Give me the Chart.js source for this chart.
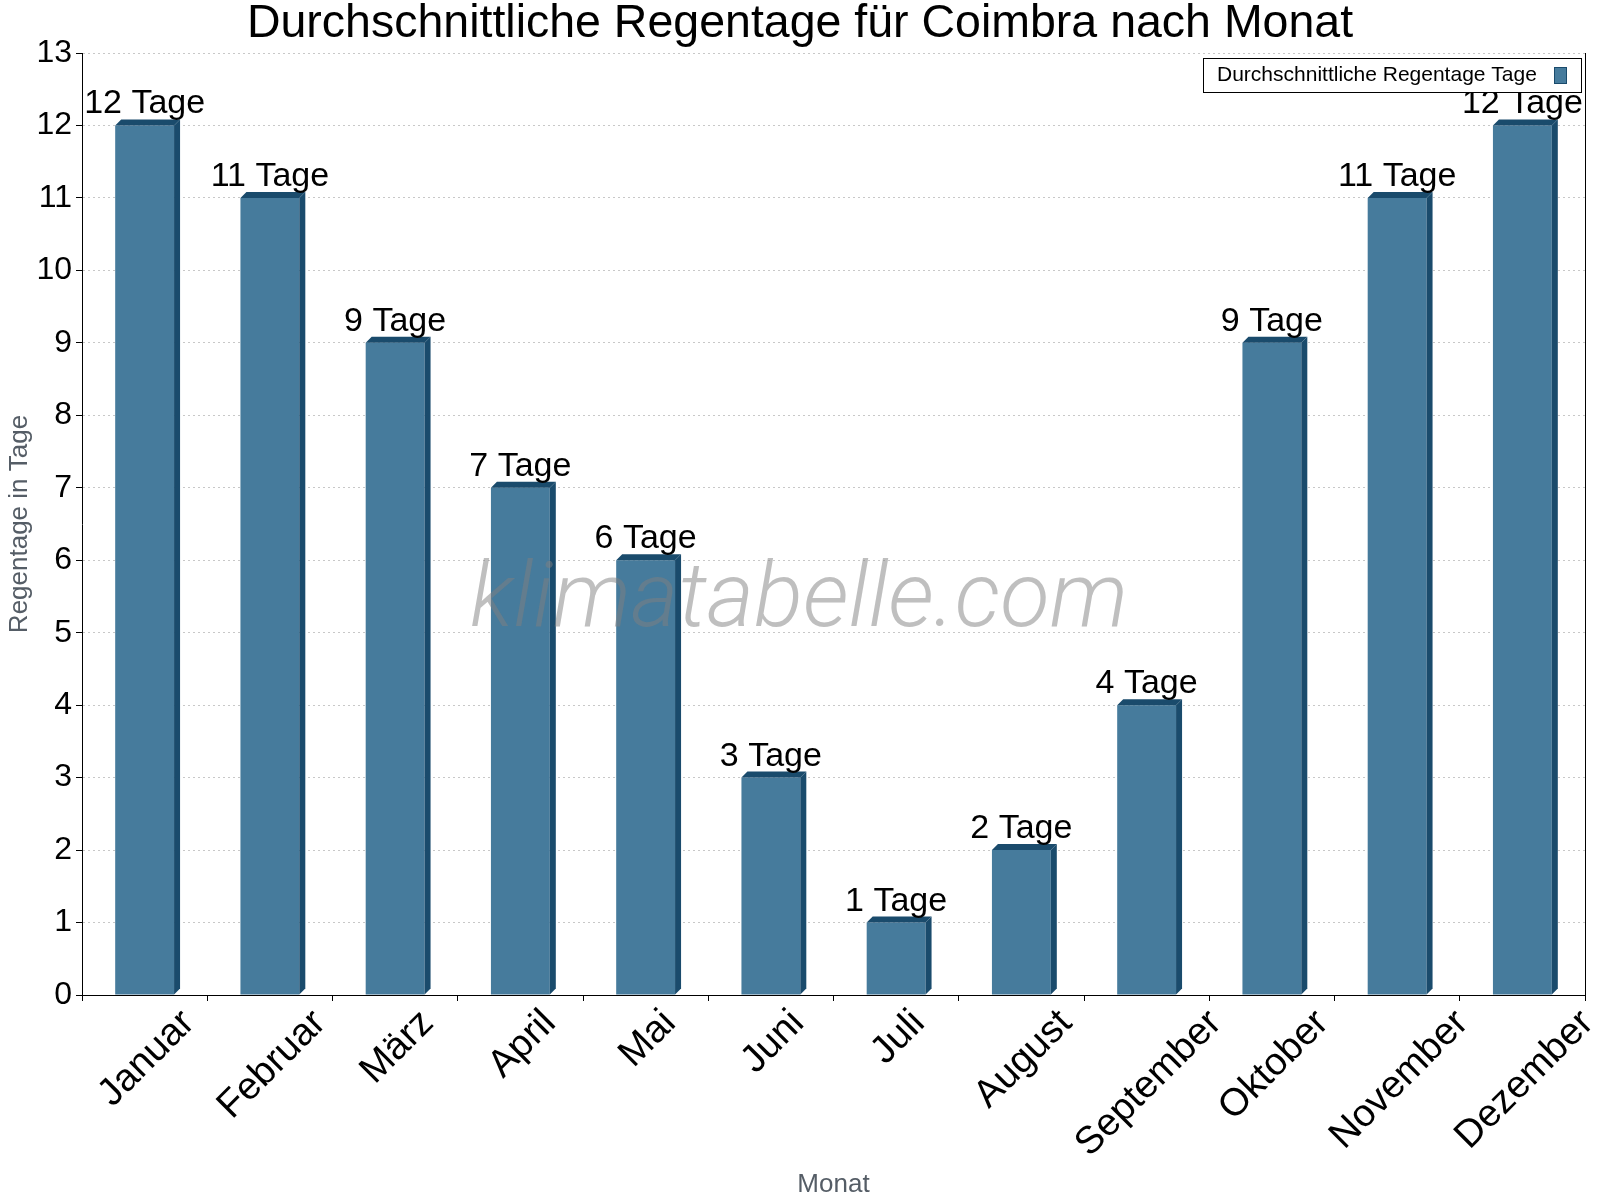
<!DOCTYPE html>
<html>
<head>
<meta charset="utf-8">
<script src="https://cdn.jsdelivr.net/npm/chart.js@4.4.1/dist/chart.umd.min.js"></script>
<style>
  html, body { margin: 0; padding: 0; background: #fff; }
  #wrap { width: 1600px; height: 1200px; }
</style>
</head>
<body>
<div id="wrap"><canvas id="chart" width="1600" height="1200"></canvas></div>
<script>
// data
const months = ['Januar', 'Februar', 'März', 'April', 'Mai', 'Juni', 'Juli', 'August', 'September', 'Oktober', 'November', 'Dezember'];
const rainDays = [12, 11, 9, 7, 6, 3, 1, 2, 4, 9, 11, 12];
const yMin = 0;
const yMax = 13;
const yStep = 1;
const unit = 'Tage';
const seriesLabel = 'Durchschnittliche Regentage Tage';
const chartTitle = 'Durchschnittliche Regentage für Coimbra nach Monat';
const yTitle = 'Regentage in Tage';
const xTitle = 'Monat';
const watermark = 'klimatabelle.com';

const FONT = '"Liberation Sans", Arial, sans-serif';
const front = '#467b9c';
const dark = '#1a4b6c';
const depth = 6;
const xLabelSize = 38.5;

// 3D faces, watermark, value labels, month labels, legend, title
const decor = {
  id: 'decor',
  afterDatasetsDraw(chart) {
    const ctx = chart.ctx;
    const area = chart.chartArea;
    const meta = chart.getDatasetMeta(0);
    const xScale = chart.scales.x;
    ctx.save();
    ctx.fillStyle = dark;
    meta.data.forEach(bar => {
      const p = bar.getProps(['x', 'y', 'base', 'width'], true);
      const x0 = p.x - p.width / 2, x1 = p.x + p.width / 2;
      // top face
      ctx.beginPath();
      ctx.moveTo(x0, p.y);
      ctx.lineTo(x0 + depth, p.y - depth);
      ctx.lineTo(x1 + depth, p.y - depth);
      ctx.lineTo(x1, p.y);
      ctx.closePath();
      ctx.fill();
      // side face
      ctx.beginPath();
      ctx.moveTo(x1, p.y);
      ctx.lineTo(x1 + depth, p.y - depth);
      ctx.lineTo(x1 + depth, p.base - depth);
      ctx.lineTo(x1, p.base);
      ctx.closePath();
      ctx.fill();
    });

    // watermark
    ctx.font = 'italic 300 96px Roboto';
    const w = ctx.measureText(watermark).width;
    ctx.font = 'italic 300 ' + (96 * 658 / w) + 'px Roboto';
    ctx.fillStyle = 'rgba(128,128,128,0.5)';
    ctx.textAlign = 'center';
    ctx.textBaseline = 'alphabetic';
    ctx.fillText(watermark, 799, 626);

    // value labels
    ctx.fillStyle = '#000';
    ctx.font = '34px ' + FONT;
    meta.data.forEach((bar, i) => {
      ctx.fillText(rainDays[i] + ' ' + unit, bar.x, bar.y - 12);
    });

    // month labels, rotated round their centre
    ctx.font = xLabelSize + 'px ' + FONT;
    const half = 0.36 * xLabelSize;
    months.forEach((m, i) => {
      const cx = xScale.getPixelForTick(i);
      const tw = ctx.measureText(m).width;
      const cy = area.bottom + 10 + Math.SQRT1_2 * (tw / 2 + half);
      ctx.save();
      ctx.translate(cx, cy);
      ctx.rotate(-Math.PI / 4);
      ctx.textAlign = 'center';
      ctx.textBaseline = 'alphabetic';
      ctx.fillText(m, 0, half);
      ctx.restore();
    });

    // right frame line
    ctx.strokeStyle = '#000';
    ctx.lineWidth = 1;
    ctx.beginPath();
    ctx.moveTo(Math.round(area.right) + 0.5, area.top);
    ctx.lineTo(Math.round(area.right) + 0.5, area.bottom + 6);
    ctx.stroke();

    // legend
    ctx.fillStyle = '#fff';
    ctx.fillRect(1203, 58, 378, 34);
    ctx.strokeRect(1203.5, 58.5, 378, 34);
    ctx.fillStyle = '#000';
    ctx.font = '21px ' + FONT;
    ctx.textAlign = 'left';
    ctx.textBaseline = 'middle';
    ctx.fillText(seriesLabel, 1217, 75);
    ctx.fillStyle = front;
    ctx.fillRect(1554, 67, 13, 17);
    ctx.strokeStyle = dark;
    ctx.strokeRect(1554.5, 67.5, 12, 16);

    // title
    ctx.fillStyle = '#000';
    ctx.font = '46.5px ' + FONT;
    ctx.textAlign = 'center';
    ctx.fillText(chartTitle, 800, 24);
    ctx.restore();
  }
};

new Chart(document.getElementById('chart'), {
  type: 'bar',
  data: {
    labels: months,
    datasets: [{
      label: seriesLabel,
      data: rainDays,
      backgroundColor: front,
      borderWidth: 0,
      categoryPercentage: 1,
      barPercentage: 0.47
    }]
  },
  options: {
    responsive: false,
    animation: false,
    devicePixelRatio: 1,
    layout: { padding: { top: 53, right: 15, left: 0, bottom: 0 } },
    plugins: {
      legend: { display: false },
      title: { display: false },
      tooltip: { enabled: false }
    },
    scales: {
      x: {
        grid: { display: true, drawOnChartArea: false, drawTicks: true, tickLength: 6, tickColor: '#000', offset: true },
        border: { color: '#000', width: 1 },
        ticks: { display: false, autoSkip: false },
        title: { display: true, text: xTitle, color: '#555d66', font: { family: FONT, size: 26 }, padding: 0 },
        afterFit(scale) { scale.height = 205; }
      },
      y: {
        min: yMin,
        max: yMax,
        grid: { color: '#c8c8c8', tickColor: '#000', tickLength: 6, drawTicks: true, tickBorderDash: [] },
        border: { color: '#000', width: 1, dash: [2, 3] },
        ticks: {
          stepSize: yStep,
          color: '#000',
          font: { family: FONT, size: 32 },
          padding: 4
        },
        title: { display: true, text: yTitle, color: '#555d66', font: { family: FONT, size: 26 }, padding: 4 },
        afterFit(scale) { scale.width = 82; }
      }
    }
  },
  plugins: [decor]
});
</script>
</body>
</html>
